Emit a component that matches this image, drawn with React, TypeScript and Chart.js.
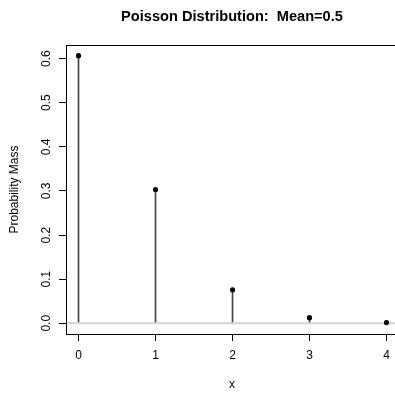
import React, { useEffect, useRef } from "react";
import { Chart, registerables } from "chart.js";

Chart.register(...registerables);

// Poisson probability mass for mean 0.5, k = 0..4
const xValues = [0, 1, 2, 3, 4];
const pmfValues = [0.6065, 0.3033, 0.0758, 0.0126, 0.0016];
const xTickValues = [0, 1, 2, 3, 4];
const xTickLabels = ["0", "1", "2", "3", "4"];
const yTickValues = [0, 0.1, 0.2, 0.3, 0.4, 0.5, 0.6];
const yTickLabels = ["0.0", "0.1", "0.2", "0.3", "0.4", "0.5", "0.6"];
const titleText = "Poisson Distribution:  Mean=0.5";
const xTitle = "x";
const yTitle = "Probability Mass";

const FONT = "'Liberation Sans', Arial, Helvetica, sans-serif";
const CANVAS_W = 420;
const CANVAS_H = 394;

const rStylePlugin = {
  id: "rStyle",
  afterDatasetDraw(chart: any, args: any) {
    // horizontal reference line at zero, on top of the stems
    if (args.index !== 0) return;
    const { ctx, chartArea, scales } = chart;
    const y0 = scales.y.getPixelForValue(0);
    ctx.save();
    ctx.strokeStyle = "#d3d3d3";
    ctx.lineWidth = 2;
    ctx.beginPath();
    ctx.moveTo(chartArea.left + 1, y0);
    ctx.lineTo(chartArea.right, y0);
    ctx.stroke();
    ctx.restore();
  },
  afterDraw(chart: any) {
    const { ctx, chartArea, scales } = chart;
    ctx.save();
    // top edge of the plot box (left and bottom come from the axis borders)
    ctx.strokeStyle = "#000";
    ctx.lineWidth = 1;
    ctx.beginPath();
    const top = Math.round(chartArea.top) + 0.5;
    ctx.moveTo(chartArea.left, top);
    ctx.lineTo(chartArea.right, top);
    ctx.stroke();

    ctx.fillStyle = "#000";
    ctx.font = `12px ${FONT}`;
    ctx.textAlign = "center";
    ctx.textBaseline = "middle";
    // x tick labels
    xTickValues.forEach((v, i) => {
      ctx.fillText(xTickLabels[i], scales.x.getPixelForValue(v), 356);
    });
    // y tick labels, reading bottom to top
    yTickValues.forEach((v, i) => {
      ctx.save();
      ctx.translate(47, scales.y.getPixelForValue(v));
      ctx.rotate(-Math.PI / 2);
      ctx.fillText(yTickLabels[i], 0, 0);
      ctx.restore();
    });
    // axis titles
    ctx.fillText(xTitle, 232, 385);
    ctx.save();
    ctx.translate(15, (chartArea.top + chartArea.bottom) / 2);
    ctx.rotate(-Math.PI / 2);
    ctx.fillText(yTitle, 0, 0);
    ctx.restore();
    // main title
    ctx.font = `bold 14.6px ${FONT}`;
    ctx.fillText(titleText, 232, 17);
    ctx.restore();
  },
};

export default function App() {
  const canvasRef = useRef<HTMLCanvasElement | null>(null);

  useEffect(() => {
    const canvas = canvasRef.current;
    if (!canvas) return;
    const points = xValues.map((x, i) => ({ x, y: pmfValues[i] }));
    const chart = new Chart(canvas, {
      type: "bar",
      data: {
        datasets: [
          {
            type: "bar",
            data: points,
            backgroundColor: "#444444",
            barThickness: 1,
            order: 2,
          } as any,
          {
            type: "scatter",
            data: points,
            pointStyle: "circle",
            pointRadius: 2.6,
            pointBackgroundColor: "#000",
            pointBorderWidth: 0,
            order: 1,
          } as any,
        ],
      },
      options: {
        responsive: false,
        animation: false,
        events: [],
        layout: { padding: { left: 0, top: 45, right: CANVAS_W - 397, bottom: 60 } },
        plugins: { legend: { display: false }, title: { display: false }, tooltip: { enabled: false } },
        scales: {
          x: {
            type: "linear",
            min: -12.5 / 77,
            max: -12.5 / 77 + 331 / 77,
            offset: false,
            grid: { display: true, drawOnChartArea: false, drawTicks: true, tickLength: 7, color: "#000", offset: false },
            border: { display: true, color: "#000", width: 1 },
            ticks: { display: false },
            afterBuildTicks: (scale: any) => {
              scale.ticks = xTickValues.map((v) => ({ value: v }));
            },
            afterFit: (scale: any) => {
              scale.height = 0;
            },
          },
          y: {
            type: "linear",
            min: -0.0243,
            max: 0.6308,
            grid: { display: true, drawOnChartArea: false, drawTicks: true, tickLength: 7, color: "#000" },
            border: { display: true, color: "#000", width: 1 },
            ticks: { display: false },
            afterBuildTicks: (scale: any) => {
              scale.ticks = yTickValues.map((v) => ({ value: v }));
            },
            afterFit: (scale: any) => {
              scale.width = 66;
            },
          },
        },
      } as any,
      plugins: [rStylePlugin],
    });
    return () => chart.destroy();
  }, []);

  return (
    <div style={{ position: "absolute", left: 0, top: 0, width: 395, height: 394, overflow: "hidden", background: "#fff" }}>
      <canvas ref={canvasRef} width={CANVAS_W} height={CANVAS_H} style={{ display: "block" }} />
    </div>
  );
}
